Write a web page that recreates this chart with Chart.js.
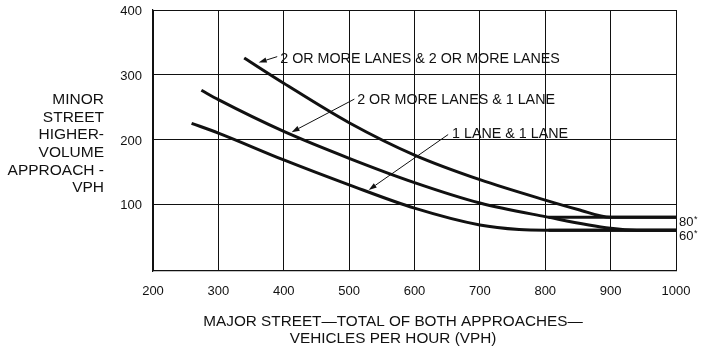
<!DOCTYPE html>
<html>
<head>
<meta charset="utf-8">
<script src="https://cdn.jsdelivr.net/npm/chart.js@4.4.1/dist/chart.umd.min.js"></script>
<style>
  html, body { margin: 0; padding: 0; background: #ffffff; }
  #wrap { width: 707px; height: 355px; }
</style>
</head>
<body>
<div id="wrap"><canvas id="c" width="707" height="355"></canvas></div>
<script>
// ---- data ----
const xTickValues = [200, 300, 400, 500, 600, 700, 800, 900, 1000];
const yTickValues = [100, 200, 300, 400];

const seriesNames = ['2 OR MORE LANES & 2 OR MORE LANES', '2 OR MORE LANES & 1 LANE', '1 LANE & 1 LANE'];

const twoTwoX = [339.5, 400, 500, 600, 700, 800, 850, 900, 1000];
const twoTwoY = [326, 287, 226, 176, 138, 106.5, 92, 80, 80];

const twoOneX = [274, 300, 400, 500, 600, 700, 800, 900, 940, 1000];
const twoOneY = [276, 261.5, 212.5, 171, 133.5, 102, 81, 63, 60, 60];

const oneOneX = [259, 300, 400, 500, 600, 700, 760, 800, 1000];
const oneOneY = [225, 210, 168.5, 130, 94, 68, 61, 60, 60];

const thresholdX = [805, 1000];
const threshold80 = [80, 80];
const threshold60 = [60, 60];
const thresholdLabels = ['80', '60'];

const yTitleLines = ['MINOR', 'STREET', 'HIGHER-', 'VOLUME', 'APPROACH -', 'VPH'];
const xTitleLines = ['MAJOR STREET\u2014TOTAL OF BOTH APPROACHES\u2014', 'VEHICLES PER HOUR (VPH)'];

// ---- helpers ----
function pts(xs, ys) { return xs.map((x, i) => ({ x: x, y: ys[i] })); }

const INK = '#111111';
const FONT = "'Liberation Sans', Arial, Helvetica, sans-serif";

function curve(label, xs, ys) {
  return {
    label: label,
    data: pts(xs, ys),
    showLine: true,
    borderColor: INK,
    backgroundColor: INK,
    borderWidth: 3,
    pointRadius: 0,
    pointHoverRadius: 0,
    cubicInterpolationMode: 'monotone',
    fill: false,
    clip: 4
  };
}

// annotation callouts (label anchor and arrow in data units)
const callouts = [
  { text: seriesNames[0], tx: 394.6, ty: 324.7, from: [390, 328], to: [361.7, 319] },
  { text: seriesNames[1], tx: 512.3, ty: 260.2, from: [508, 262.4], to: [412, 211.4] },
  { text: seriesNames[2], tx: 657.5, ty: 208.3, from: [651.5, 207.7], to: [530, 122.2] }
];

const annotatePlugin = {
  id: 'annotate',
  afterDatasetsDraw(chart) {
    const ctx = chart.ctx;
    const xs = chart.scales.x, ys = chart.scales.y;
    ctx.save();
    ctx.fillStyle = INK;
    ctx.strokeStyle = INK;
    callouts.forEach(c => {
      const x1 = xs.getPixelForValue(c.from[0]), y1 = ys.getPixelForValue(c.from[1]);
      const x2 = xs.getPixelForValue(c.to[0]), y2 = ys.getPixelForValue(c.to[1]);
      const ang = Math.atan2(y2 - y1, x2 - x1);
      const headLen = 8, headW = 2.6;
      const bx = x2 - headLen * Math.cos(ang), by = y2 - headLen * Math.sin(ang);
      ctx.lineWidth = 1;
      ctx.beginPath();
      ctx.moveTo(x1, y1);
      ctx.lineTo(bx, by);
      ctx.stroke();
      ctx.beginPath();
      ctx.moveTo(x2, y2);
      ctx.lineTo(bx + headW * Math.sin(ang), by - headW * Math.cos(ang));
      ctx.lineTo(bx - headW * Math.sin(ang), by + headW * Math.cos(ang));
      ctx.closePath();
      ctx.fill();
      ctx.font = '14.3px ' + FONT;
      ctx.textAlign = 'left';
      ctx.textBaseline = 'middle';
      ctx.fillText(c.text, xs.getPixelForValue(c.tx), ys.getPixelForValue(c.ty));
    });
    const ca = chart.chartArea;
    const thrVals = [threshold80[0], threshold60[0]];
    const thrOffsets = [5.5, 6.5];
    thrVals.forEach((v, i) => {
      const yp = ys.getPixelForValue(v) + thrOffsets[i];
      ctx.font = '13px ' + FONT;
      ctx.textAlign = 'left';
      ctx.textBaseline = 'middle';
      const lx = ca.right + 3;
      ctx.fillText(thresholdLabels[i], lx, yp);
      const w = ctx.measureText(thresholdLabels[i]).width;
      ctx.font = '9px ' + FONT;
      ctx.fillText('*', lx + w + 0.5, yp - 3);
    });
    ctx.restore();
  },
  afterDraw(chart) {
    const ctx = chart.ctx;
    ctx.save();
    ctx.fillStyle = INK;
    ctx.textBaseline = 'middle';
    ctx.font = '15.5px ' + FONT;
    ctx.textAlign = 'right';
    yTitleLines.forEach((t, i) => ctx.fillText(t, 104, 100 + i * 17.6));
    ctx.textAlign = 'center';
    ctx.font = '15.3px ' + FONT;
    ctx.fillText(xTitleLines[0], 393, 322);
    ctx.fillText(xTitleLines[1], 393, 339);
    ctx.restore();
  }
};

new Chart(document.getElementById('c'), {
  type: 'scatter',
  data: {
    datasets: [
      curve(seriesNames[0], twoTwoX, twoTwoY),
      curve(seriesNames[1], twoOneX, twoOneY),
      curve(seriesNames[2], oneOneX, oneOneY),
      curve('80 threshold', thresholdX, threshold80),
      curve('60 threshold', thresholdX, threshold60)
    ]
  },
  options: {
    responsive: false,
    animation: false,
    events: [],
    layout: { autoPadding: false, padding: { left: 0, right: 31, top: 10, bottom: 0 } },
    plugins: { legend: { display: false }, tooltip: { enabled: false }, title: { display: false } },
    scales: {
      x: {
        type: 'linear',
        min: 200,
        max: 1000,
        afterBuildTicks(scale) { scale.ticks = xTickValues.map(v => ({ value: v })); },
        afterFit(scale) { scale.height = 84; scale.paddingLeft = 0; scale.paddingRight = 0; },
        ticks: { color: INK, font: { family: FONT, size: 13 }, padding: 13, maxRotation: 0, autoSkip: false,
                 callback: (v) => String(v) },
        grid: { color: INK, lineWidth: 1, drawTicks: false },
        border: { display: true, color: INK, width: 1.2 }
      },
      y: {
        type: 'linear',
        min: -3,
        max: 400,
        afterBuildTicks(scale) { scale.ticks = yTickValues.map(v => ({ value: v })); },
        afterFit(scale) { scale.width = 153; scale.paddingTop = 0; scale.paddingBottom = 0; },
        ticks: { color: INK, font: { family: FONT, size: 13 }, padding: 11, labelOffset: 1.5,
                 callback: (v) => String(v) },
        grid: { color: INK, lineWidth: 1, drawTicks: false },
        border: { display: true, color: INK, width: 1.2 }
      }
    }
  },
  plugins: [annotatePlugin]
});
</script>
</body>
</html>
